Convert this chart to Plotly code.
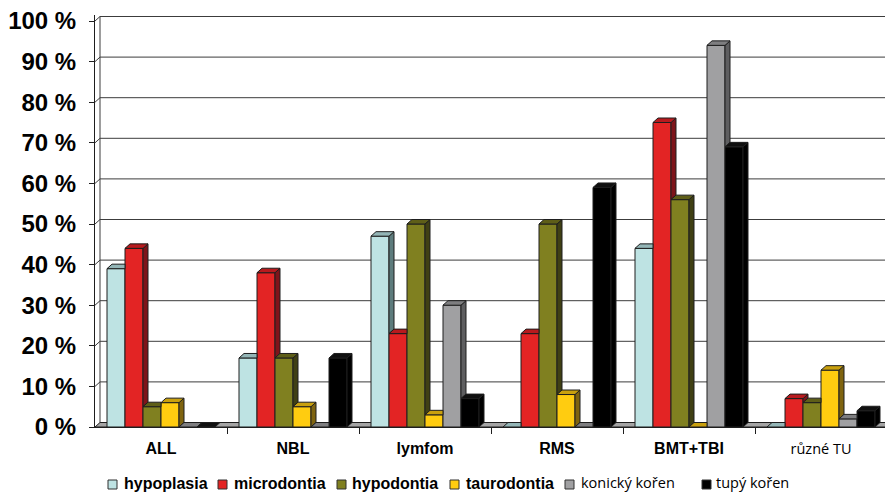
import plotly.graph_objects as go

# --- data -----------------------------------------------------------------
categories = ["ALL", "NBL", "lymfom", "RMS", "BMT+TBI", "různé TU"]
series_names = ["hypoplasia", "microdontia", "hypodontia", "taurodontia",
                "konický kořen", "tupý kořen"]
hypoplasia = [39, 17, 47, 0, 44, 0]
microdontia = [44, 38, 23, 23, 75, 7]
hypodontia = [5, 17, 50, 50, 56, 6]
taurodontia = [6, 5, 3, 8, 0, 14]
konicky_koren = [0, 0, 30, 0, 94, 2]
tupy_koren = [0, 17, 7, 59, 69, 4]
y_ticks = list(range(0, 101, 10))

series_values = [hypoplasia, microdontia, hypodontia, taurodontia,
                 konicky_koren, tupy_koren]
bold_series = [True, True, True, True, False, False]

# --- styling --------------------------------------------------------------
front_colors = ["#BEE3E3", "#E32424", "#808020", "#FFCC10", "#A0A0A2", "#000000"]
top_colors = ["#93B5B6", "#B81A1E", "#5E5E18", "#C9A00E", "#7E7E80", "#101010"]
side_colors = ["#5E7C7D", "#7E141A", "#404014", "#7F6410", "#5E5E60", "#000000"]
edge = "#1E1E1E"
grid_color = "#3C3C3C"
floor_color = "#A4A4A4"

W, H = 885, 493
ML, MR, MT, MB = 95, 0, 15, 66
PW, PH = W - ML - MR, H - MT - MB
PX_PER_CAT = 132.0
PX_PER_PCT = 4.06
X0 = -0.5
X1 = X0 + PW / PX_PER_CAT
Y1 = PH / PX_PER_PCT

# 3-D depth offsets (data units)
DX = 5.0 / PX_PER_CAT
DY = 4.5 / PX_PER_PCT
BW = 18.0 / PX_PER_CAT
n_series = len(series_values)

fig = go.Figure()

# front faces
for j, vals in enumerate(series_values):
    xs = [i + (j - (n_series - 1) / 2) * BW for i in range(len(categories))]
    fig.add_bar(
        x=xs, y=[v if v > 0 else None for v in vals], width=BW,
        marker=dict(color=front_colors[j], line=dict(color=edge, width=1)),
        showlegend=False, hoverinfo="skip",
    )

# top and side faces, clipped where the neighbouring bar hides them
for j, vals in enumerate(series_values):
    tx, ty, sx, sy = [], [], [], []
    for i, v in enumerate(vals):
        xl = i + (j - (n_series - 1) / 2) * BW - BW / 2
        xr = xl + BW
        nxt = series_values[j + 1][i] if j + 1 < n_series else 0
        if nxt > v:
            tx += [xl, xl + DX, xr, xr, xl, None]
            ty += [v, v + DY, v + DY, v, v, None]
        else:
            tx += [xl, xl + DX, xr + DX, xr, xl, None]
            ty += [v, v + DY, v + DY, v, v, None]
            if v > 0:
                lo = nxt
                sx += [xr, xr, xr + DX, xr + DX, xr, None]
                sy += [lo, v, v + DY, lo + DY, lo, None]
    if sx:
        fig.add_scatter(x=sx, y=sy, mode="lines", fill="toself",
                        fillcolor=side_colors[j], line=dict(color=edge, width=1),
                        showlegend=False, hoverinfo="skip", cliponaxis=False)
    fig.add_scatter(x=tx, y=ty, mode="lines", fill="toself",
                    fillcolor=top_colors[j], line=dict(color=edge, width=1),
                    showlegend=False, hoverinfo="skip", cliponaxis=False)

shapes = []
# floor plate
shapes.append(dict(
    type="path", xref="x", yref="y", layer="below",
    path=f"M {X0},0 L {X1 + 1},0 L {X1 + 1},{DY} L {X0 + DX},{DY} Z",
    fillcolor=floor_color, line=dict(color=edge, width=1)))
# back-wall gridlines and their diagonals on the side wall
for v in y_ticks[1:]:
    shapes.append(dict(type="line", xref="x", yref="y", layer="below",
                       x0=X0 + DX, x1=X1 + 1, y0=v + DY, y1=v + DY,
                       line=dict(color=grid_color, width=1)))
    shapes.append(dict(type="line", xref="x", yref="y", layer="below",
                       x0=X0, x1=X0 + DX, y0=v, y1=v + DY,
                       line=dict(color=grid_color, width=1)))
# back edge of the side wall
shapes.append(dict(type="line", xref="x", yref="y", layer="below",
                   x0=X0 + DX, x1=X0 + DX, y0=DY, y1=100 + DY,
                   line=dict(color=grid_color, width=1)))


# legend drawn as swatches and text
def px_x(px):
    return (px - ML) / PW


def px_y(py):
    return (MT + PH - py) / PH


legend_square_x = [108, 218, 337, 450, 565, 702]
legend_text_x = [123, 233, 351, 465, 580, 715]
annotations = []
for j, name in enumerate(series_names):
    sx0 = legend_square_x[j]
    shapes.append(dict(type="rect", xref="paper", yref="paper",
                       x0=px_x(sx0), x1=px_x(sx0 + 9), y0=px_y(489), y1=px_y(480),
                       fillcolor=front_colors[j], line=dict(color="#303030", width=1)))
    if bold_series[j]:
        font = dict(family="Liberation Sans", size=16, color="#000000", weight="bold")
    else:
        font = dict(family="Open Sans", size=14.5, color="#000000")
    annotations.append(dict(xref="paper", yref="paper", x=px_x(legend_text_x[j]),
                            y=px_y(493), xanchor="left", yanchor="bottom",
                            borderpad=0, text=name, showarrow=False, font=font))

tick_text = [f"<b>{c}</b>" for c in categories[:-1]] + [
    f"<span style='font-family:Open Sans;font-size:14.5px'>{categories[-1]}</span>"]

fig.update_layout(
    width=W, height=H,
    margin=dict(l=ML, r=MR, t=MT, b=MB, pad=0),
    paper_bgcolor="white", plot_bgcolor="white",
    barmode="overlay", showlegend=False,
    shapes=shapes, annotations=annotations,
    xaxis=dict(range=[X0, X1], tickmode="array",
               tickvals=list(range(len(categories))), ticktext=tick_text,
               ticks="", showgrid=False, zeroline=False,
               showline=True, linecolor=edge, linewidth=1,
               tickfont=dict(family="Liberation Sans", size=16, color="#000000"),
               ticklabelstandoff=7,
               minor=dict(tickmode="array",
                          tickvals=[i + 0.5 for i in range(len(categories) - 1)],
                          ticks="outside", ticklen=6, tickcolor=edge, tickwidth=1,
                          showgrid=False)),
    yaxis=dict(range=[0, Y1], tickmode="array", tickvals=y_ticks,
               ticktext=[f"{v} %" for v in y_ticks],
               ticks="outside", ticklen=5, tickcolor=edge, tickwidth=1,
               showgrid=False, zeroline=False,
               showline=True, linecolor=edge, linewidth=1,
               tickfont=dict(family="Liberation Sans", size=24, color="#000000",
                             weight="bold"),
               ticklabelstandoff=8),
)

fig.write_html("out.html")
